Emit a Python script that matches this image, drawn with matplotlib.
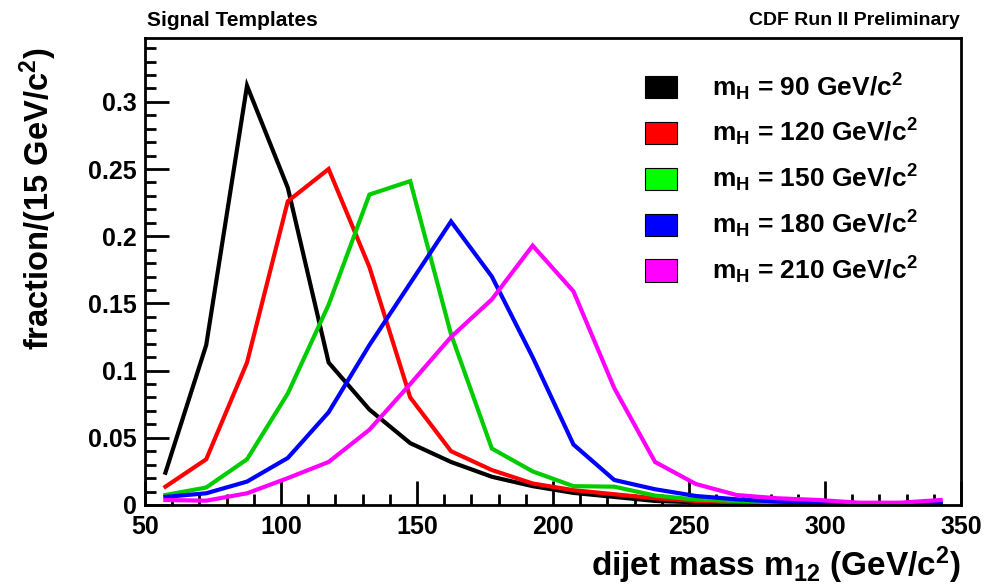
import matplotlib
matplotlib.use('Agg')
import matplotlib.pyplot as plt
from matplotlib.patches import Patch
from matplotlib.ticker import MultipleLocator

plt.rcParams['font.family'] = ['Liberation Sans', 'DejaVu Sans']
plt.rcParams['font.weight'] = 'bold'
plt.rcParams['mathtext.fontset'] = 'custom'
plt.rcParams['mathtext.rm'] = 'Liberation Sans:bold'
plt.rcParams['mathtext.it'] = 'Liberation Sans:bold'
plt.rcParams['mathtext.bf'] = 'Liberation Sans:bold'

# bin centres of the 15 GeV/c^2 dijet mass bins
mass_bins = [57.5, 72.5, 87.5, 102.5, 117.5, 132.5, 147.5, 162.5, 177.5, 192.5,
             207.5, 222.5, 237.5, 252.5, 267.5, 282.5, 297.5, 312.5, 327.5, 342.5]

higgs_masses = [90, 120, 150, 180, 210]

frac_90 = [0.024, 0.119, 0.312, 0.236, 0.106, 0.071, 0.046, 0.032, 0.021, 0.014,
           0.009, 0.006, 0.003, 0.002, 0.001, 0.001, 0.0005, 0.0003, 0.0003, 0.0003]
frac_120 = [0.0136, 0.034, 0.106, 0.226, 0.250, 0.177, 0.080, 0.040, 0.026, 0.016,
            0.011, 0.008, 0.005, 0.003, 0.002, 0.001, 0.001, 0.0005, 0.0005, 0.0005]
frac_150 = [0.0074, 0.013, 0.034, 0.083, 0.149, 0.231, 0.241, 0.127, 0.042, 0.025,
            0.014, 0.0136, 0.007, 0.004, 0.003, 0.002, 0.001, 0.0008, 0.0006, 0.0006]
frac_180 = [0.006, 0.0087, 0.0174, 0.035, 0.069, 0.119, 0.165, 0.211, 0.170, 0.110,
            0.045, 0.0186, 0.0117, 0.0067, 0.0042, 0.0025, 0.0015, 0.001, 0.0008, 0.0015]
frac_210 = [0.0037, 0.0032, 0.0087, 0.020, 0.032, 0.056, 0.090, 0.125, 0.153, 0.193,
            0.159, 0.087, 0.032, 0.0156, 0.0074, 0.005, 0.0037, 0.0017, 0.0017, 0.0037]

series = [frac_90, frac_120, frac_150, frac_180, frac_210]
line_colors = ['black', '#ff0000', '#00cc00', '#0000ff', '#ff00ff']
box_colors = ['black', '#ff0000', '#00ff00', '#0000ff', '#ff00ff']

fig = plt.figure(figsize=(9.98, 5.88), dpi=100)
ax = fig.add_axes([0.1453, 0.1412, 0.8177, 0.7942])

for values, col in zip(series, line_colors):
    ax.plot(mass_bins, values, color=col, linewidth=3.0, solid_joinstyle='miter')

ax.set_xlim(50, 350)
ax.set_ylim(0, 0.3475)

ax.xaxis.set_major_locator(MultipleLocator(50))
ax.xaxis.set_minor_locator(MultipleLocator(10))
ax.yaxis.set_minor_locator(MultipleLocator(0.01))
ax.set_yticks([0, 0.05, 0.1, 0.15, 0.2, 0.25, 0.3])
ax.set_yticklabels(['0', '0.05', '0.1', '0.15', '0.2', '0.25', '0.3'])

ax.tick_params(which='both', direction='in', top=False, right=False, width=2,
               labelsize=18)
ax.tick_params(which='major', length=17)
ax.tick_params(which='minor', length=8)
ax.tick_params(axis='x', pad=7)
ax.tick_params(axis='y', pad=6)
for sp in ax.spines.values():
    sp.set_linewidth(2)

ax.set_xlabel(r'dijet mass m$_{\mathrm{12}}$ (GeV/c$^{\mathrm{2}}$)', fontsize=24,
              fontweight='bold', loc='right', labelpad=4)
ax.set_ylabel(r'fraction/(15 GeV/c$^{\mathrm{2}}$)', fontsize=23.5,
              fontweight='bold', loc='top')
ax.yaxis.set_label_coords(-0.105, 0.98)

fig.text(0.1473, 0.965, 'Signal Templates', fontsize=15, fontweight='bold',
         ha='left', va='center')
fig.text(0.962, 0.965, 'CDF Run II Preliminary', fontsize=14, fontweight='bold',
         ha='right', va='center')

handles = [Patch(facecolor=c, edgecolor='black', linewidth=0.8) for c in box_colors]
labels = [r'm$_{\mathrm{H}}$ = %d GeV/c$^{\mathrm{2}}$' % m for m in higgs_masses]
ax.legend(handles, labels, loc='upper left', bbox_to_anchor=(0.613, 0.929),
          frameon=False, fontsize=19, handlelength=1.21, handleheight=0.91,
          handletextpad=1.33, labelspacing=0.55, borderpad=0, borderaxespad=0)

fig.savefig('out.png', dpi=100)
